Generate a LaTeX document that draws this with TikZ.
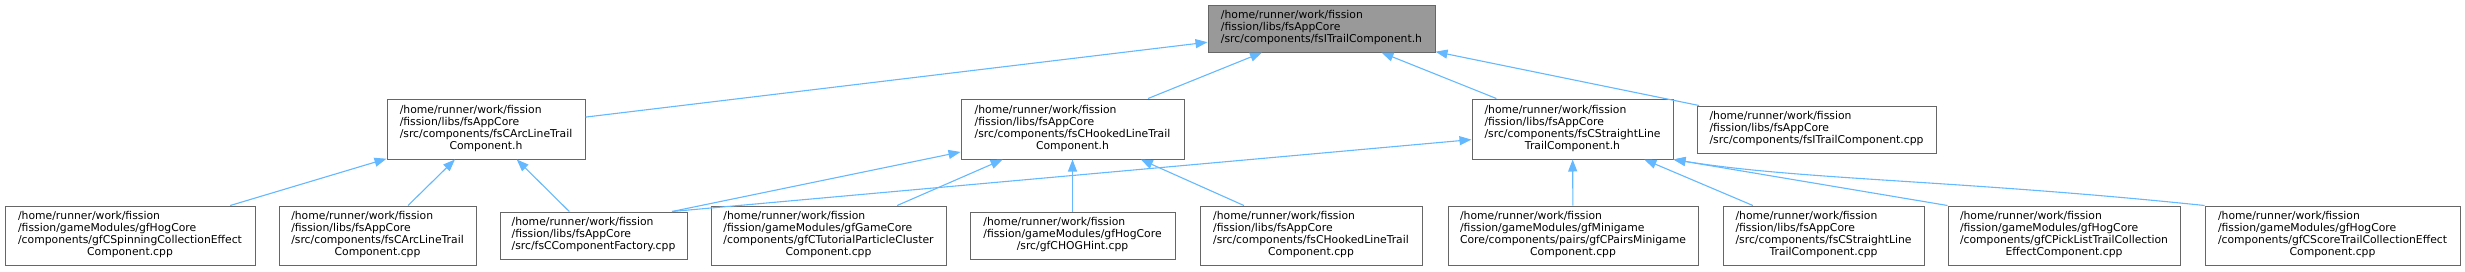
\documentclass[tikz,border=0pt]{standalone}
\usepackage{fontspec}
\setmainfont{DejaVu Sans}
\usepackage{tikz}
\usetikzlibrary{arrows.meta}
\definecolor{edgeblue}{RGB}{99,184,255}
\definecolor{boxline}{RGB}{102,102,102}
\definecolor{hilite}{RGB}{153,153,153}
\newcommand{\fpath}[2]{\begin{tabular}{@{}l@{}}#1\\\multicolumn{1}{@{}c@{}}{#2}\end{tabular}}

\begin{document}
\begin{tikzpicture}[x=1pt, y=-1pt,
  fnode/.style={draw=boxline, line width=1pt, fill=white, inner sep=0pt, font=\fontsize{10.8}{12}\selectfont},
  fmain/.style={fnode, fill=hilite},
  dep/.style={draw=edgeblue, line width=1.1pt, {Triangle[length=12pt,width=9pt]}-}]
\useasboundingbox (0,0) rectangle (2465,271);
% headers
\node[fmain, minimum width=227, minimum height=47] (itrail) at (1321.5,28.5) {\fpath{/home/runner/work/fission\\/fission/libs/fsAppCore}{/src/components/fsITrailComponent.h}};
\node[fnode, minimum width=198, minimum height=60] (arch) at (486,129) {\fpath{/home/runner/work/fission\\/fission/libs/fsAppCore\\/src/components/fsCArcLineTrail}{Component.h}};
\node[fnode, minimum width=223, minimum height=60] (hookh) at (1072.5,129) {\fpath{/home/runner/work/fission\\/fission/libs/fsAppCore\\/src/components/fsCHookedLineTrail}{Component.h}};
\node[fnode, minimum width=201, minimum height=60] (straighth) at (1572.5,129) {\fpath{/home/runner/work/fission\\/fission/libs/fsAppCore\\/src/components/fsCStraightLine}{TrailComponent.h}};
\node[fnode, minimum width=239, minimum height=47] (itrailcpp) at (1816.5,129.5) {\fpath{/home/runner/work/fission\\/fission/libs/fsAppCore}{/src/components/fsITrailComponent.cpp}};
% sources
\node[fnode, minimum width=250, minimum height=59] (spin) at (130,235.5) {\fpath{/home/runner/work/fission\\/fission/gameModules/gfHogCore\\/components/gfCSpinningCollectionEffect}{Component.cpp}};
\node[fnode, minimum width=197, minimum height=59] (arccpp) at (377.5,235.5) {\fpath{/home/runner/work/fission\\/fission/libs/fsAppCore\\/src/components/fsCArcLineTrail}{Component.cpp}};
\node[fnode, minimum width=187, minimum height=47] (factory) at (593.5,235.5) {\fpath{/home/runner/work/fission\\/fission/libs/fsAppCore}{/src/fsCComponentFactory.cpp}};
\node[fnode, minimum width=235, minimum height=59] (tutorial) at (828.5,235.5) {\fpath{/home/runner/work/fission\\/fission/gameModules/gfGameCore\\/components/gfCTutorialParticleCluster}{Component.cpp}};
\node[fnode, minimum width=205, minimum height=47] (hoghint) at (1072.5,235.5) {\fpath{/home/runner/work/fission\\/fission/gameModules/gfHogCore}{/src/gfCHOGHint.cpp}};
\node[fnode, minimum width=222, minimum height=59] (hookcpp) at (1311,235.5) {\fpath{/home/runner/work/fission\\/fission/libs/fsAppCore\\/src/components/fsCHookedLineTrail}{Component.cpp}};
\node[fnode, minimum width=250, minimum height=59] (pairs) at (1573,235.5) {\fpath{/home/runner/work/fission\\/fission/gameModules/gfMinigame\\Core/components/pairs/gfCPairsMinigame}{Component.cpp}};
\node[fnode, minimum width=201, minimum height=59] (straightcpp) at (1823.5,235.5) {\fpath{/home/runner/work/fission\\/fission/libs/fsAppCore\\/src/components/fsCStraightLine}{TrailComponent.cpp}};
\node[fnode, minimum width=232, minimum height=59] (picklist) at (2064,235.5) {\fpath{/home/runner/work/fission\\/fission/gameModules/gfHogCore\\/components/gfCPickListTrailCollection}{EffectComponent.cpp}};
\node[fnode, minimum width=255, minimum height=59] (score) at (2332.5,235.5) {\fpath{/home/runner/work/fission\\/fission/gameModules/gfHogCore\\/components/gfCScoreTrailCollectionEffect}{Component.cpp}};
% includes
\draw[dep] (itrail) -- (arch);
\draw[dep] (itrail) -- (hookh);
\draw[dep] (itrail) -- (straighth);
\draw[dep] (itrail) -- (itrailcpp);
\draw[dep] (arch) -- (spin);
\draw[dep] (arch) -- (arccpp);
\draw[dep] (arch) -- (factory);
\draw[dep] (hookh) -- (factory.17);
\draw[dep] (hookh) -- (tutorial);
\draw[dep] (hookh) -- (hoghint);
\draw[dep] (hookh) -- (hookcpp);
\draw[dep] (straighth.186) -- (factory.17);
\draw[dep] (straighth) -- (pairs);
\draw[dep] (straighth) -- (straightcpp);
\draw[dep] (straighth.south east) -- (picklist.north west);
\draw[dep] (straighth.south east) .. controls (1800,180) and (1960,180) .. (score.north west);
\end{tikzpicture}
\end{document}
